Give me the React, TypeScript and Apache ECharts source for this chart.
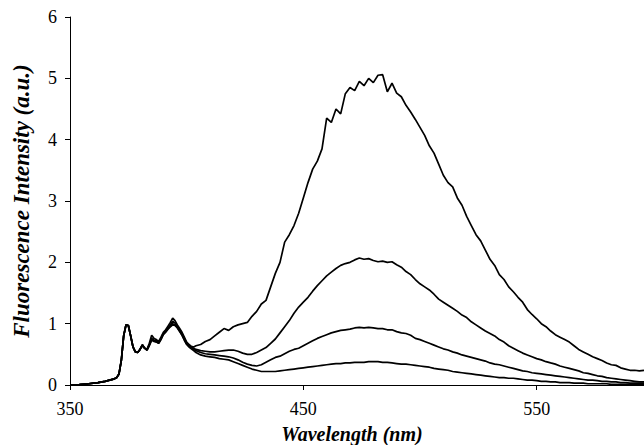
import React, { useEffect, useRef } from "react";
import * as echarts from "echarts";

const wavelengths = [
  350, 354, 358, 362, 365, 367, 369, 370, 371, 372, 373, 374, 375, 376, 377, 378, 379, 380, 381, 382,
  383, 384, 385, 386, 387, 388, 389, 390, 391, 392, 393, 394, 395, 396, 397, 398, 399, 400, 401, 402, 403,
  404, 406, 408, 410, 412, 414, 416, 418, 420, 422, 424, 426, 428, 430, 432, 434, 436, 438, 440, 442,
  444, 446, 448, 450, 452, 454, 456, 458, 460, 462, 464, 466, 468, 470, 472, 474, 476, 478, 480, 482,
  484, 486, 488, 490, 492, 494, 496, 498, 500, 502, 504, 506, 508, 510, 512, 514, 516, 518, 520, 522,
  524, 526, 528, 530, 532, 534, 536, 538, 540, 542, 544, 546, 548, 550, 552, 554, 556, 558, 560, 562,
  564, 566, 568, 570, 572, 574, 576, 578, 580, 582, 584, 586, 588, 590, 592, 594, 596,
];

const seriesA = [
  0, 0.005, 0.02, 0.04, 0.06, 0.08, 0.1, 0.12, 0.18, 0.4, 0.8, 0.98, 0.97, 0.8, 0.62, 0.54, 0.53, 0.58, 0.66, 0.6,
  0.58, 0.68, 0.81, 0.76, 0.74, 0.71, 0.78, 0.86, 0.9, 0.96, 1.02, 1.09, 1.05, 0.98, 0.92, 0.86, 0.78, 0.7, 0.66, 0.63, 0.62,
  0.64, 0.66, 0.71, 0.74, 0.8, 0.86, 0.92, 0.89, 0.95, 0.98, 1.0, 1.02, 1.12, 1.2, 1.32, 1.38, 1.6, 1.82, 2.0, 2.33,
  2.45, 2.6, 2.8, 3.05, 3.3, 3.52, 3.65, 3.85, 4.35, 4.28, 4.5, 4.42, 4.75, 4.85, 4.8, 4.95, 4.88, 5.0, 4.93, 5.05,
  5.06, 4.78, 4.92, 4.76, 4.7, 4.56, 4.45, 4.33, 4.2, 4.07, 3.9, 3.78, 3.6, 3.42, 3.3, 3.23, 3.05, 2.93, 2.75, 2.6,
  2.45, 2.35, 2.2, 2.05, 1.95, 1.8, 1.72, 1.6, 1.52, 1.43, 1.35, 1.23, 1.15, 1.08, 1.0, 0.95, 0.88, 0.82, 0.78, 0.74,
  0.7, 0.64, 0.58, 0.54, 0.5, 0.46, 0.43, 0.4, 0.36, 0.33, 0.32, 0.28, 0.26, 0.24, 0.24, 0.23, 0.24,
];

const seriesB = [
  0, 0.005, 0.02, 0.04, 0.06, 0.08, 0.1, 0.12, 0.18, 0.4, 0.8, 0.98, 0.97, 0.8, 0.62, 0.54, 0.53, 0.58, 0.65, 0.6,
  0.57, 0.66, 0.76, 0.73, 0.72, 0.69, 0.76, 0.84, 0.88, 0.93, 0.98, 1.04, 1.01, 0.95, 0.9, 0.84, 0.76, 0.68, 0.64, 0.62, 0.6,
  0.58, 0.56, 0.55, 0.54, 0.54, 0.55, 0.56, 0.57, 0.57, 0.55, 0.52, 0.5, 0.5, 0.53, 0.57, 0.61, 0.68, 0.75, 0.85, 0.95,
  1.05, 1.17, 1.27, 1.35, 1.43, 1.53, 1.62, 1.7, 1.78, 1.84, 1.9, 1.95, 1.98, 2.0, 2.04, 2.07, 2.05, 2.06, 2.03, 2.01,
  2.02, 2.0, 2.01, 1.96, 1.92, 1.85, 1.8, 1.72, 1.65, 1.6, 1.55, 1.48, 1.4, 1.35, 1.3, 1.25, 1.2, 1.14, 1.1, 1.03,
  0.98, 0.93, 0.88, 0.84, 0.8, 0.74, 0.7, 0.64, 0.6, 0.56, 0.52, 0.49, 0.46, 0.43, 0.41, 0.38, 0.36, 0.34, 0.31, 0.29,
  0.27, 0.25, 0.23, 0.2, 0.19, 0.17, 0.15, 0.14, 0.12, 0.11, 0.1, 0.09, 0.08, 0.07, 0.06, 0.05, 0.05,
];

const seriesC = [
  0, 0.005, 0.02, 0.04, 0.06, 0.08, 0.1, 0.12, 0.18, 0.4, 0.8, 0.98, 0.97, 0.8, 0.62, 0.54, 0.53, 0.58, 0.65, 0.6,
  0.57, 0.65, 0.74, 0.72, 0.71, 0.68, 0.75, 0.83, 0.87, 0.92, 0.96, 1.0, 0.98, 0.94, 0.88, 0.82, 0.74, 0.67, 0.63, 0.61, 0.58,
  0.56, 0.53, 0.51, 0.5, 0.49, 0.48, 0.47, 0.46, 0.44, 0.41, 0.37, 0.34, 0.32, 0.31, 0.33, 0.37, 0.41, 0.45, 0.47, 0.51,
  0.55, 0.58, 0.6, 0.64, 0.68, 0.72, 0.76, 0.79, 0.82, 0.85, 0.87, 0.89, 0.9, 0.91, 0.93, 0.94, 0.93, 0.94, 0.93, 0.92,
  0.92, 0.9, 0.9, 0.87, 0.85, 0.84, 0.81, 0.76, 0.74, 0.71, 0.68, 0.65, 0.62, 0.59, 0.57, 0.54, 0.52, 0.49, 0.47, 0.45,
  0.43, 0.41, 0.39, 0.36, 0.34, 0.33, 0.31, 0.29, 0.27, 0.25, 0.23, 0.22, 0.2, 0.19, 0.18, 0.17, 0.16, 0.15, 0.14, 0.13,
  0.12, 0.11, 0.1, 0.09, 0.08, 0.08, 0.07, 0.06, 0.06, 0.05, 0.05, 0.04, 0.04, 0.03, 0.03, 0.03, 0.03,
];

const seriesD = [
  0, 0.005, 0.02, 0.04, 0.06, 0.08, 0.1, 0.12, 0.18, 0.4, 0.8, 0.98, 0.97, 0.8, 0.62, 0.54, 0.53, 0.58, 0.64, 0.6,
  0.57, 0.64, 0.73, 0.71, 0.7, 0.68, 0.74, 0.82, 0.86, 0.91, 0.95, 0.98, 0.97, 0.93, 0.87, 0.81, 0.73, 0.66, 0.62, 0.59, 0.56,
  0.53, 0.49, 0.47, 0.46, 0.45, 0.43, 0.42, 0.41, 0.38, 0.35, 0.32, 0.29, 0.26, 0.24, 0.22, 0.22, 0.22, 0.22, 0.23, 0.24,
  0.25, 0.26, 0.27, 0.28, 0.29, 0.3, 0.31, 0.32, 0.33, 0.34, 0.35, 0.35, 0.36, 0.36, 0.37, 0.37, 0.37, 0.38, 0.38, 0.38,
  0.37, 0.37, 0.36, 0.35, 0.34, 0.34, 0.33, 0.32, 0.31, 0.3, 0.29, 0.27, 0.26, 0.25, 0.24, 0.22, 0.21, 0.2, 0.19, 0.18,
  0.17, 0.16, 0.15, 0.14, 0.13, 0.12, 0.12, 0.11, 0.11, 0.1, 0.09, 0.08, 0.08, 0.07, 0.06, 0.06, 0.05, 0.05, 0.04, 0.04,
  0.04, 0.03, 0.03, 0.03, 0.02, 0.02, 0.02, 0.02, 0.02, 0.01, 0.01, 0.01, 0.01, 0.01, 0.01, 0.01, 0.01,
];

const allSeries = [seriesA, seriesB, seriesC, seriesD];
const xTitle = "Wavelength (nm)";
const yTitle = "Fluorescence Intensity (a.u.)";

const FONT = "Liberation Serif";

export default function App() {
  const ref = useRef<HTMLDivElement>(null);
  useEffect(() => {
    if (!ref.current) return;
    const chart = echarts.init(ref.current, undefined, { renderer: "svg" });
    const axisLineStyle = { color: "#000", width: 1 };
    chart.setOption({
      animation: false,
      backgroundColor: "#fff",
      grid: { left: 70, right: 0, top: 17, bottom: 60, containLabel: false },
      xAxis: [
        {
          type: "value",
          min: 350,
          max: 596,
          interval: 100,
          axisLine: { show: true, onZero: false, lineStyle: axisLineStyle },
          axisTick: { show: true, length: 5, inside: false, lineStyle: axisLineStyle },
          axisLabel: { color: "#000", fontFamily: FONT, fontSize: 18, margin: 15, showMaxLabel: false },
          splitLine: { show: false },
        },
        {
          type: "value",
          position: "top",
          min: 350,
          max: 596,
          axisLine: { show: true, lineStyle: axisLineStyle },
          axisTick: { show: false },
          axisLabel: { show: false },
          splitLine: { show: false },
        },
      ],
      yAxis: {
        type: "value",
        min: 0,
        max: 6,
        interval: 1,
        axisLine: { show: true, lineStyle: axisLineStyle },
        axisTick: { show: true, length: 5, inside: false, lineStyle: axisLineStyle },
        axisLabel: { color: "#000", fontFamily: FONT, fontSize: 18, margin: 13 },
        splitLine: { show: false },
      },
      graphic: [
        {
          type: "text",
          x: 352,
          y: 434,
          style: {
            text: xTitle,
            fill: "#000",
            fontFamily: FONT,
            fontStyle: "italic",
            fontWeight: "bold",
            fontSize: 20,
            textAlign: "center",
            textVerticalAlign: "middle",
          },
        },
        {
          type: "text",
          x: 21,
          y: 201,
          rotation: Math.PI / 2,
          style: {
            text: yTitle,
            fill: "#000",
            fontFamily: FONT,
            fontStyle: "italic",
            fontWeight: "bold",
            fontSize: 23,
            textAlign: "center",
            textVerticalAlign: "middle",
          },
        },
      ],
      series: allSeries.map((vals, i) => ({
        name: `s${i}`,
        type: "line",
        showSymbol: false,
        symbol: "none",
        data: wavelengths.map((w, j) => [w, vals[j]]),
        lineStyle: { color: "#000", width: 1.7 },
        clip: true,
      })),
    });
    return () => chart.dispose();
  }, []);
  return <div ref={ref} style={{ position: "fixed", left: 0, top: 0, width: 644, height: 445, background: "#fff" }} />;
}
